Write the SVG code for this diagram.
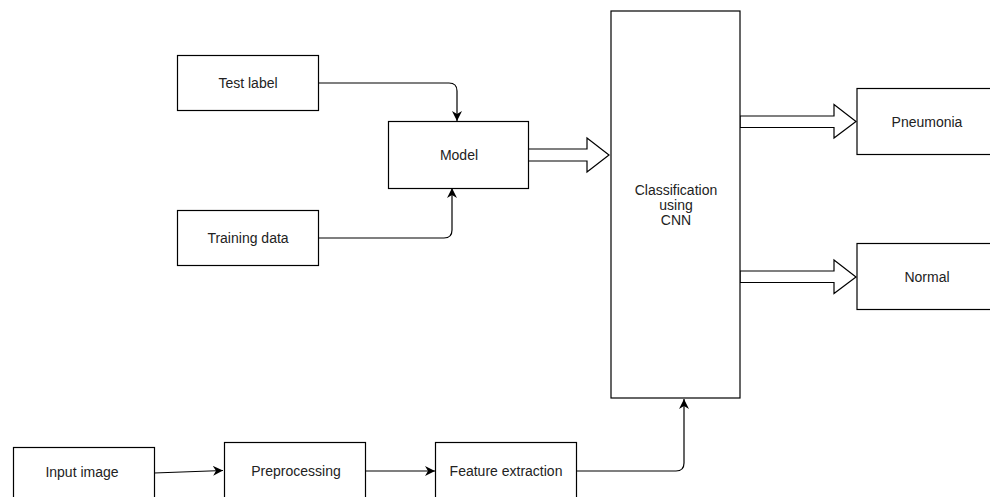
<svg xmlns="http://www.w3.org/2000/svg" width="990" height="497" viewBox="0 0 990 497">
<style>
.box{fill:#fff;stroke:#000;stroke-width:1.2}
.lbl{font-family:"Liberation Sans",Arial,sans-serif;font-size:14px;fill:#222;text-anchor:middle}
.con{fill:none;stroke:#000;stroke-width:1.2}
.blk{fill:#fff;stroke:#000;stroke-width:1.2;stroke-linejoin:miter}
</style>
<defs>
<marker id="arr" viewBox="0 0 10 10" markerWidth="10" markerHeight="10" refX="10" refY="5" orient="auto" markerUnits="userSpaceOnUse">
<path d="M0,0 L10,5 L0,10 L3,5 z" fill="#000"/>
</marker>
</defs>
<rect width="990" height="497" fill="#fff"/>
<g id="connectors">
<path class="con" d="M318,83 H449 Q457,83 457,91 V121" marker-end="url(#arr)"/>
<path class="con" d="M318,238 H444 Q452,238 452,230 V188" marker-end="url(#arr)"/>
<path class="con" d="M154,473 L223,470.5" marker-end="url(#arr)"/>
<path class="con" d="M365,471 H435" marker-end="url(#arr)"/>
<path class="con" d="M576,471 H676 Q684,471 684,463 V399" marker-end="url(#arr)"/>
<polygon class="blk" points="528,149 587,149 587,138 609,155 587,172 587,161 528,161"/>
<polygon class="blk" points="740,116 834,116 834,104.5 856,121.5 834,138 834,127.5 740,127.5"/>
<polygon class="blk" points="740,271 834,271 834,260 856,277 834,293.5 834,282.5 740,282.5"/>
</g>
<g id="test-label"><rect class="box" x="177.5" y="55.5" width="141" height="55"/><text class="lbl" x="248" y="88">Test label</text></g>
<g id="training-data"><rect class="box" x="177.5" y="210.5" width="141" height="55"/><text class="lbl" x="248" y="243">Training data</text></g>
<g id="model"><rect class="box" x="388.5" y="121.5" width="140" height="67"/><text class="lbl" x="459" y="160">Model</text></g>
<g id="cnn"><rect class="box" x="611" y="11" width="129" height="387"/><text class="lbl" x="676" y="195">Classification</text><text class="lbl" x="676" y="210">using</text><text class="lbl" x="676" y="225">CNN</text></g>
<g id="pneumonia"><rect class="box" x="857" y="88.5" width="140" height="66"/><text class="lbl" x="927" y="127">Pneumonia</text></g>
<g id="normal"><rect class="box" x="857" y="243.5" width="140" height="66"/><text class="lbl" x="927" y="282">Normal</text></g>
<g id="input-image"><rect class="box" x="13.5" y="447.5" width="141" height="60"/><text class="lbl" x="82" y="477">Input image</text></g>
<g id="preprocessing"><rect class="box" x="224.5" y="442.5" width="141" height="65"/><text class="lbl" x="296" y="476">Preprocessing</text></g>
<g id="feature-extraction"><rect class="box" x="435.5" y="442.5" width="141" height="65"/><text class="lbl" x="506" y="476">Feature extraction</text></g>
</svg>
